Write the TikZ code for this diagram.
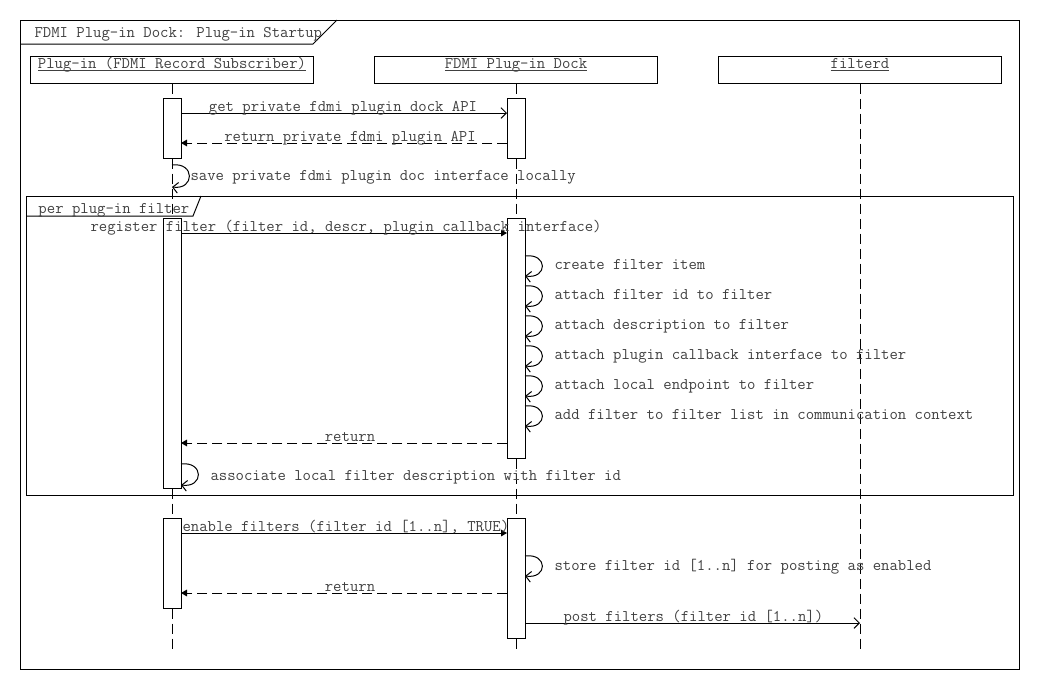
\documentclass[tikz,border=0pt]{standalone}
\usepackage{fontspec}
\usetikzlibrary{arrows.meta}
\definecolor{txt}{HTML}{404040}
\newcommand{\ulx}[1]{\underline{\smash{#1}}}
\newcommand{\mono}{\ttfamily\fontsize{12.2}{13}\selectfont}
\begin{document}
\begin{tikzpicture}[x=0.75pt,y=-0.75pt,line width=0.75pt,
  lbl/.style={font=\mono,text=txt,inner sep=0pt},
  head/.style={draw,minimum width=212.25pt,minimum height=20.25pt,inner sep=0pt,
    font=\mono,text=txt},
  bar/.style={draw,fill=white,minimum width=13.5pt,inner sep=0pt},
  life/.style={dash pattern=on 7.5pt off 3.75pt},
  ret/.style={dash pattern=on 7.5pt off 3.75pt,-{Triangle[length=4.5pt,width=5pt]}},
  call/.style={-{Triangle[length=4.5pt,width=5pt]}},
  opencall/.style={-{Straight Barb[length=4pt,width=8pt]}},
  selfcall/.style={-{Straight Barb[length=4pt,width=8pt]}}
]
\useasboundingbox (0,0) rectangle (1040,690);

% outer frame
\draw (20,20) rectangle (1019,669);
\draw (20,44) -- (313,44) -- (337,20);
\node[lbl,anchor=base west] (title) at (34,37) {FDMI Plug-in Dock: Plug-in Startup};

% lifeline heads
\node[head] (hp) at (172,69.5) {\ulx{Plug-in (FDMI Record Subscriber)}};
\node[head] (hd) at (516,69.5) {\ulx{FDMI Plug-in Dock}};
\node[head] (hf) at (860,69.5) {\ulx{filterd}};

% lifelines
\coordinate (ep) at (172,652);
\coordinate (ed) at (516,652);
\coordinate (ef) at (860,650);
\draw[life] (hp.south) -- (ep);
\draw[life] (hd.south) -- (ed);
\draw[life] (hf.south) -- (ef);

% loop frame
\draw (26,196) rectangle (1013,495);
\draw (26,216) -- (193,216) -- (201,196);
\node[lbl,anchor=base west] (looplbl) at (38,213) {per plug-in filter};

% activation bars
\node[bar,minimum height=45pt] (pb1) at (172,128) {};
\node[bar,minimum height=45pt] (db1) at (516,128) {};
\node[bar,minimum height=202.5pt] (pb2) at (172,353) {};
\node[bar,minimum height=180pt] (db2) at (516,338) {};
\node[bar,minimum height=67.5pt] (pb3) at (172,563) {};
\node[bar,minimum height=90pt] (db3) at (516,578) {};

% message 1
\coordinate (m1a) at (181,113); \coordinate (m1b) at (507,113);
\draw[opencall] (m1a) -- (m1b);
\node[lbl,anchor=base] (l1) at (343,111) {get private fdmi plugin dock API};
% message 2
\coordinate (m2a) at (507,143); \coordinate (m2b) at (181,143);
\draw[ret] (m2a) -- (m2b);
\node[lbl,anchor=base] (l2) at (350,141) {return private fdmi plugin API};
% self 1
\coordinate (s1a) at (172,165); \coordinate (s1b) at (172,187);
\draw[selfcall] (s1a) .. controls (195,162) and (195,190) .. (s1b);
\node[lbl,anchor=base west] (ls1) at (190,180) {save private fdmi plugin doc interface locally};

% register
\coordinate (m3a) at (181,233); \coordinate (m3b) at (507,233);
\draw[call] (m3a) -- (m3b);
\node[lbl,anchor=base west] (l3) at (90,231) {register filter (filter id, descr, plugin callback interface)};

% dock self calls
\foreach \ya/\txtl [count=\i] in {256/create filter item,286/attach filter id to filter,316/attach description to filter,346/attach plugin callback interface to filter,376/attach local endpoint to filter,406/add filter to filter list in communication context}{
  \coordinate (da\i) at (525,\ya);
  \coordinate (db\i) at (525,\ya+20);
  \draw[selfcall] (da\i) .. controls (548,\ya-3) and (548,\ya+23) .. (db\i);
  \node[lbl,anchor=base west] (ld\i) at (554,\ya+13) {\txtl};
}

% return
\coordinate (m4a) at (507,443); \coordinate (m4b) at (181,443);
\draw[ret] (m4a) -- (m4b);
\node[lbl,anchor=base] (l4) at (350,441) {return};

% associate
\coordinate (s2a) at (181,464); \coordinate (s2b) at (181,485);
\draw[selfcall] (s2a) .. controls (204,461) and (204,488) .. (s2b);
\node[lbl,anchor=base west] (ls2) at (210,480) {associate local filter description with filter id};

% enable
\coordinate (m5a) at (181,533); \coordinate (m5b) at (507,533);
\draw[call] (m5a) -- (m5b);
\node[lbl,anchor=base west] (l5) at (182,531) {enable filters (filter id [1..n], TRUE)};

% store
\coordinate (s3a) at (525,556); \coordinate (s3b) at (525,576);
\draw[selfcall] (s3a) .. controls (548,553) and (548,579) .. (s3b);
\node[lbl,anchor=base west] (ls3) at (554,570) {store filter id [1..n] for posting as enabled};

% return
\coordinate (m6a) at (507,593); \coordinate (m6b) at (181,593);
\draw[ret] (m6a) -- (m6b);
\node[lbl,anchor=base] (l6) at (350,591) {return};

% post
\coordinate (m7a) at (525,623); \coordinate (m7b) at (860,623);
\draw[opencall] (m7a) -- (m7b);
\node[lbl,anchor=base west] (l7) at (563,621) {post filters (filter id [1..n])};
\end{tikzpicture}
\end{document}
